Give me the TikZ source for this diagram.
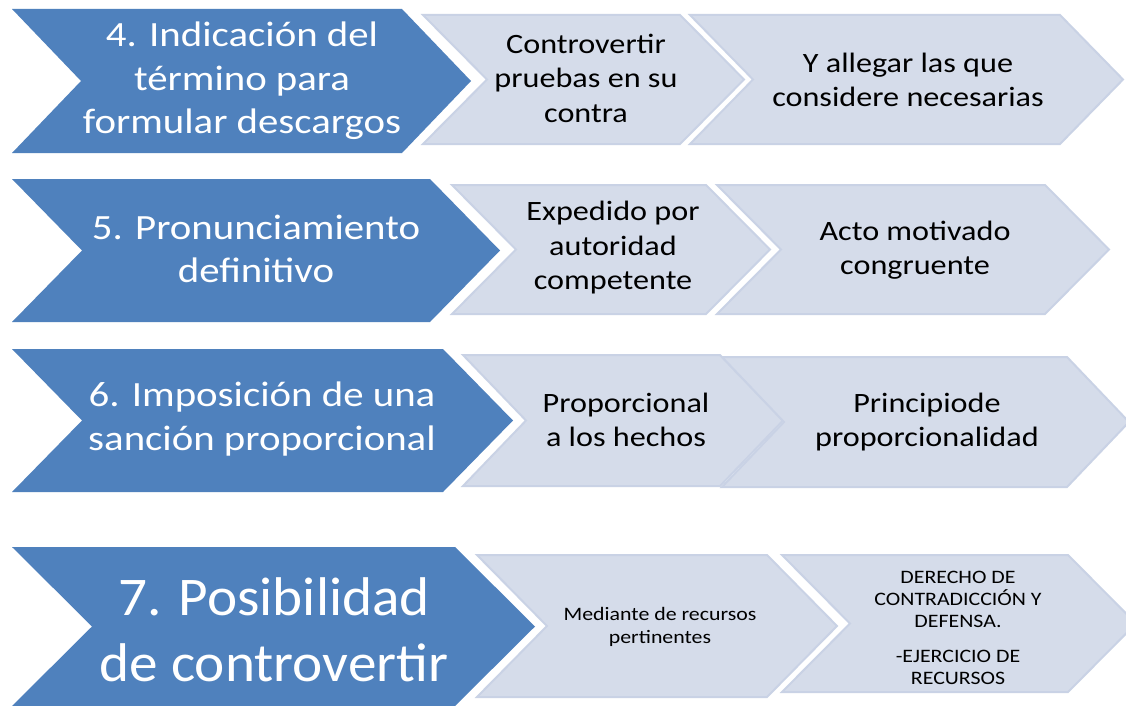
\documentclass[tikz,border=0pt]{standalone}
\usepackage{fontspec}
\setmainfont{Carlito}
\newfontfamily\widefont{Carlito}[FakeStretch=1.15]
\newfontfamily\bigfont{Carlito}[FakeStretch=1.05]
\definecolor{blueacc}{HTML}{4F81BD}
\definecolor{lightfill}{HTML}{D5DCEA}
\definecolor{lightedge}{HTML}{C9D2E5}
\tikzset{
  bluechev/.style={fill=blueacc},
  lightchev/.style={fill=lightfill, draw=lightedge, line width=2pt, line join=miter},
  bluetext/.style={text=white, align=center, inner sep=0pt, font=\widefont\fontsize{35.5}{43.5}\selectfont},
  bigbluetext/.style={text=white, align=center, inner sep=0pt, font=\bigfont\fontsize{54.5}{66}\selectfont},
  lighttext/.style={text=black, align=center, inner sep=0pt, font=\widefont\fontsize{28}{34.5}\selectfont},
  smalltext/.style={text=black, align=center, inner sep=0pt, font=\widefont\fontsize{19}{23}\selectfont},
  capstext/.style={text=black, align=center, inner sep=0pt, font=\widefont\fontsize{19}{22}\selectfont},
}
% #1 left x, #2 top-right x, #3 top y, #4 bottom y, #5 depth, #6 style
\newcommand{\chevshape}[6]{%
  \path[#6] (#1,#3) -- (#2,#3) -- ({#2+#5},{(#3+#4)/2}) -- (#2,#4) -- (#1,#4) -- ({#1+#5},{(#3+#4)/2}) -- cycle;}
\begin{document}
\begin{tikzpicture}[x=1pt,y=-1pt]
\useasboundingbox (0,0) rectangle (1126,706);
\clip (0,0) rectangle (1126,706);
\fill[white] (0,0) rectangle (1126,706);

% Row 4
\chevshape{12}{402}{9}{153}{69}{bluechev}
\chevshape{423}{680}{15}{144}{64}{lightchev}
\chevshape{690}{1060}{15}{144}{63}{lightchev}
\node[bluetext] (b4) at (242,81) {4. Indicación del\\término para\\formular descargos};
\node[lighttext] (l4a) at (586,78) {Controvertir\\pruebas en su\\contra};
\node[lighttext] (l4b) at (908,80) {Y allegar las que\\considere necesarias};

% Row 5
\chevshape{12}{430}{179}{322}{70}{bluechev}
\chevshape{452}{706}{185}{314}{64}{lightchev}
\chevshape{717}{1045}{185}{314}{64}{lightchev}
\node[bluetext] (b5) at (256,249) {5. Pronunciamiento\\definitivo};
\node[lighttext] (l5a) at (613,248) {Expedido por\\autoridad\\competente};
\node[lighttext] (l5b) at (915,250) {Acto motivado\\congruente};

% Row 6
\chevshape{12}{443}{349}{492}{70}{bluechev}
\chevshape{463}{720}{355}{486}{63}{lightchev}
\chevshape{722}{1067}{357}{487}{62}{lightchev}
\node[bluetext] (b6) at (262,419) {6. Imposición de una\\sanción proporcional};
\node[lighttext] (l6a) at (626,420) {Proporcional\\a los hechos};
\node[lighttext] (l6b) at (927,422) {Principiode\\proporcionalidad};

% Row 7
\chevshape{12}{455}{547}{706}{80}{bluechev}
\chevshape{477}{767}{555}{697}{70}{lightchev}
\chevshape{782}{1068}{555}{692}{68}{lightchev}
\node[bigbluetext] (b7) at (274,630) {7. Posibilidad\\de controvertir};
\node[smalltext] (l7a) at (660,627) {Mediante de recursos\\pertinentes};
\node[capstext] (l7b) at (958,628) {DERECHO DE\\CONTRADICCIÓN Y\\DEFENSA.\\[13pt]-EJERCICIO DE\\RECURSOS};
\end{tikzpicture}
\end{document}
